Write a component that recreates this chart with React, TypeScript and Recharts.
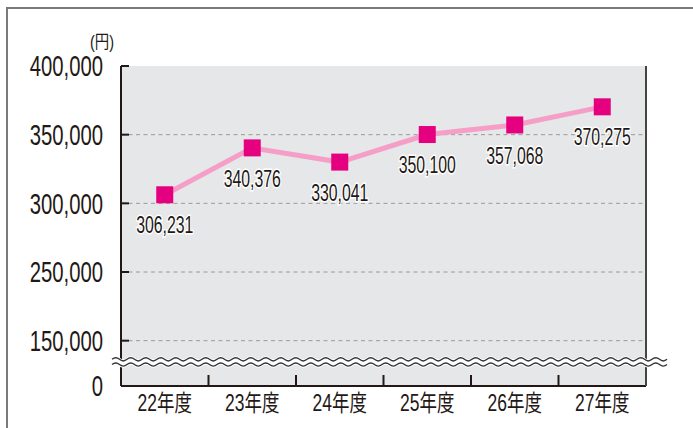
import React from 'react';
import { LineChart, Line, XAxis, YAxis, ReferenceArea, ReferenceLine, LabelList } from 'recharts';

// 年度別の金額（円）
const categories = ['22年度', '23年度', '24年度', '25年度', '26年度', '27年度'];
const amounts = [306231, 340376, 330041, 350100, 357068, 370275];

// broken axis: 0 at the bottom, then a break, then the scale runs from the "150,000" line up
const AXIS_SHIFT = 167000;
const yTickAt = [0, 33000, 83000, 133000, 183000, 233000];
const yTickLabels = ['0', '150,000', '250,000', '300,000', '350,000', '400,000'];
const gridAt = [33000, 83000, 133000, 183000];
const BREAK_LOW = 13500;
const BREAK_HIGH = 21500;

const data = categories.map((cat, i) => ({
  cat,
  value: amounts[i] - AXIS_SHIFT,
  label: amounts[i].toLocaleString('en-US'),
}));

const W = 693;
const H = 428;
const MARGIN = { top: 66, right: 46, bottom: 0, left: 0 };
const Y_AXIS_W = 121;
const PLOT_W = W - MARGIN.left - MARGIN.right - Y_AXIS_W - 1;
const BAND = PLOT_W / categories.length;

const FONT = '"Liberation Sans", Arial, "Noto Sans CJK JP", sans-serif';
const INK = '#231815';

// the original uses a condensed face, so squeeze the text horizontally
const Squeezed = ({ x, y, size, sx, anchor, children, halo }: any) => (
  <text
    transform={`translate(${x},${y}) scale(${sx},1)`}
    dy="0.36em"
    textAnchor={anchor}
    fontSize={size}
    fontFamily={FONT}
    fill={INK}
    stroke={halo ? '#ffffff' : undefined}
    strokeWidth={halo ? 3 : undefined}
    paintOrder="stroke"
  >
    {children}
  </text>
);

const YTick = (props: any) => {
  const { x, y, payload, index } = props;
  return (
    <g>
      <line x1={x} x2={x + 8} y1={y} y2={y} stroke={INK} strokeWidth={2} />
      <Squeezed x={x - 18} y={y} size={29} sx={0.7} anchor="end">
        {yTickLabels[index] ?? payload.value}
      </Squeezed>
    </g>
  );
};

const XTick = (props: any) => {
  const { x, y, payload, index } = props;
  return (
    <g>
      {index > 0 && (
        <line x1={x - BAND / 2} x2={x - BAND / 2} y1={y - 11} y2={y} stroke={INK} strokeWidth={2} />
      )}
      <Squeezed x={x} y={y + 17} size={23} sx={0.76} anchor="middle">
        {payload.value}
      </Squeezed>
    </g>
  );
};

// reference areas only span the padded point range, so widen them by half a band on each side
const PlotBackground = (props: any) => {
  const { x, y, width, height } = props;
  return <rect x={x - BAND / 2} y={y} width={width + BAND} height={height} fill="#e6e7e8" />;
};

const wavePath = (x0: number, cycles: number, yc: number, period: number, amp: number) => {
  let d = `M${x0},${yc}`;
  for (let i = 0; i < cycles; i++) {
    d += ` q${period / 4},${-amp * 2} ${period / 2},0 t${period / 2},0`;
  }
  return d;
};

const BreakShape = (props: any) => {
  const { x, y, width, height } = props;
  const yc = y + height / 2;
  const period = 15;
  const x0 = x - BAND / 2 - 9;
  const cycles = Math.floor((width + BAND + 9 + 24) / period);
  const x1 = x0 + cycles * period;
  const top = wavePath(x0, cycles, yc - 2.6, period, 1.6);
  const bottom = wavePath(x0, cycles, yc + 2.6, period, 1.6);
  return (
    <g>
      <rect x={x0} y={yc - 2.6} width={x1 - x0} height={5.2} fill="#ffffff" />
      <path d={top} fill="none" stroke="#ffffff" strokeWidth={3} />
      <path d={bottom} fill="none" stroke="#ffffff" strokeWidth={3} />
      <path d={top} fill="none" stroke="#333" strokeWidth={1.3} />
      <path d={bottom} fill="none" stroke="#333" strokeWidth={1.3} />
    </g>
  );
};

const Marker = (props: any) => {
  const { cx, cy } = props;
  if (cx == null || cy == null) return null;
  return <rect x={cx - 8.5} y={cy - 8.5} width={17} height={17} fill="#e4007f" />;
};

const ValueLabel = (props: any) => {
  const { x, y, value } = props;
  return (
    <Squeezed x={x} y={y + 30} size={24} sx={0.66} anchor="middle" halo>
      {value}
    </Squeezed>
  );
};

export default function App() {
  return (
    <div style={{ position: 'absolute', left: 0, top: 0, width: W, height: H, background: '#fff', overflow: 'hidden' }}>
      <div
        style={{
          position: 'absolute',
          left: 6,
          top: 7,
          width: 740,
          height: 460,
          border: '2px solid #7a7a7a',
          boxSizing: 'border-box',
        }}
      />
      <div
        style={{
          position: 'absolute',
          left: 90,
          top: 31,
          fontSize: 18,
          lineHeight: '22px',
          fontFamily: FONT,
          color: INK,
          transform: 'scaleX(0.8)',
          transformOrigin: 'left top',
        }}
      >
        (円)
      </div>
      <LineChart width={W} height={H} data={data} margin={MARGIN}>
        <ReferenceArea
          y1={0}
          y2={233000}
          ifOverflow="visible"
          shape={(p: any) => <PlotBackground {...p} />}
          zIndex={0}
        />
        {gridAt.map((g) => (
          <ReferenceLine key={g} y={g} stroke="#9a9a9a" strokeDasharray="4 3.5" strokeWidth={1} zIndex={50} />
        ))}
        <XAxis
          dataKey="cat"
          height={42}
          interval={0}
          padding={{ left: BAND / 2, right: BAND / 2 }}
          tickLine={false}
          tickSize={0}
          tickMargin={0}
          axisLine={{ stroke: INK, strokeWidth: 2 }}
          tick={(p: any) => <XTick {...p} />}
        />
        <YAxis
          width={Y_AXIS_W}
          domain={[0, 233000]}
          ticks={yTickAt}
          interval={0}
          tickLine={false}
          tickSize={0}
          tickMargin={0}
          axisLine={{ stroke: INK, strokeWidth: 2 }}
          tick={(p: any) => <YTick {...p} />}
        />
        <YAxis
          yAxisId="r"
          orientation="right"
          width={1}
          domain={[0, 1]}
          tick={false}
          tickLine={false}
          axisLine={{ stroke: '#444', strokeWidth: 2 }}
        />
        <Line
          type="linear"
          dataKey="value"
          stroke="#f59fc8"
          strokeWidth={5}
          dot={(p: any) => <Marker key={p.index} {...p} />}
          activeDot={false}
          isAnimationActive={false}
        >
          <LabelList dataKey="label" content={(p: any) => <ValueLabel {...p} />} />
        </Line>
        <ReferenceArea
          y1={BREAK_LOW}
          y2={BREAK_HIGH}
          ifOverflow="visible"
          shape={(p: any) => <BreakShape {...p} />}
          zIndex={600}
        />
      </LineChart>
    </div>
  );
}
